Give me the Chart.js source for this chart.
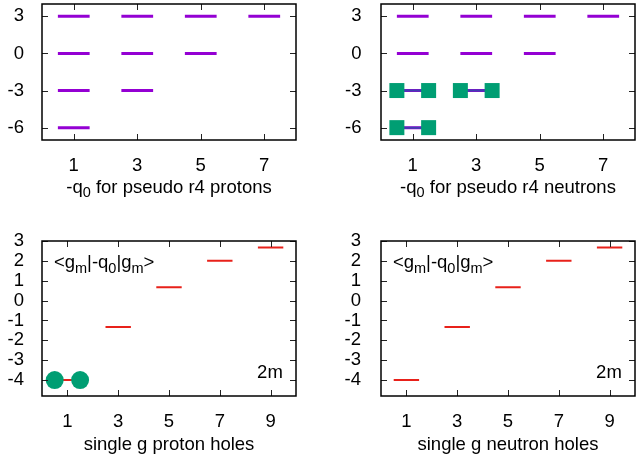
<!DOCTYPE html>
<html>
<head>
<meta charset="utf-8">
<script src="https://cdn.jsdelivr.net/npm/chart.js@4.4.1/dist/chart.umd.min.js"></script>
<style>
  body { margin: 0; background: #fff; }
  #wrap { position: relative; width: 641px; height: 457px; }
  canvas { position: absolute; }
</style>
</head>
<body>
<div id="wrap">
  <canvas id="q-protons" width="320" height="200" style="left:0;top:0"></canvas>
  <canvas id="q-neutrons" width="321" height="200" style="left:320px;top:0"></canvas>
  <canvas id="g-protons" width="320" height="232" style="left:0;top:225px"></canvas>
  <canvas id="g-neutrons" width="321" height="232" style="left:320px;top:225px"></canvas>
</div>
<script>
// top row: -q0 levels for pseudo r4 shell
const topX = [1, 3, 5, 7];
const topYTicks = [3, 0, -3, -6];
const protonLevels = [[3, 0, -3, -6], [3, 0, -3], [3, 0], [3]];
const neutronLevels = [[3, 0, -3, -6], [3, 0, -3], [3, 0], [3]];
const neutronFilled = [[-3, -6], [-3], [], []];

// bottom row: <gm|-q0|gm> for single g holes
const botX = [1, 3, 5, 7, 9];
const botYTicks = [3, 2, 1, 0, -1, -2, -3, -4];
const gmLevels = [-4, -1.333, 0.667, 2, 2.667];
const protonHoleX = [1];
const protonHoleY = [-4];

const PURPLE = "#9400d3";
const BLUE = "#4040b0";
const GREEN = "#009e73";
const RED = "#e8211a";
const FONT = { family: "'Liberation Sans', Arial, sans-serif", size: 18.5 };
const SUB = { family: FONT.family, size: 14.5 };

function segs(xs, levels) {
  const pts = [];
  xs.forEach((x, i) => {
    [].concat(levels[i]).forEach((y) => {
      pts.push({ x: x - 0.5, y: y }, { x: x + 0.5, y: y }, { x: x, y: null });
    });
  });
  return pts;
}

// text with gnuplot-style subscripts: parts = [[text, isSub], ...]
function drawRich(ctx, px, py, parts, align) {
  const font = (f) => f.size + "px " + f.family;
  let w = 0;
  parts.forEach(([t, isSub]) => {
    ctx.font = font(isSub ? SUB : FONT);
    w += ctx.measureText(t).width;
  });
  let x = px;
  if (align === "right") x = px - w;
  if (align === "center") x = px - w / 2;
  ctx.fillStyle = "#000";
  ctx.textAlign = "left";
  ctx.textBaseline = "alphabetic";
  const base = py + 6.5;
  parts.forEach(([t, isSub]) => {
    ctx.font = font(isSub ? SUB : FONT);
    ctx.fillText(t, x, isSub ? base + 4.5 : base);
    x += ctx.measureText(t).width;
  });
}

const framePlugin = {
  id: "frame",
  afterDatasetsDraw(chart, args, opts) {
    const { ctx, chartArea: a } = chart;
    const x = chart.scales.x;
    const y = chart.scales.y;
    ctx.save();
    ctx.strokeStyle = "#222";
    ctx.lineWidth = 1;
    ctx.beginPath();
    x.ticks.forEach((t) => {
      const px = Math.round(x.getPixelForValue(t.value)) + 0.5;
      ctx.moveTo(px, a.bottom);
      ctx.lineTo(px, a.bottom - 6);
      ctx.moveTo(px, a.top);
      ctx.lineTo(px, a.top + 6);
    });
    y.ticks.forEach((t) => {
      const py = Math.round(y.getPixelForValue(t.value)) + 0.5;
      ctx.moveTo(a.left, py);
      ctx.lineTo(a.left + 6, py);
      ctx.moveTo(a.right, py);
      ctx.lineTo(a.right - 6, py);
    });
    ctx.stroke();
    ctx.strokeStyle = "#000";
    ctx.lineWidth = 1.5;
    ctx.strokeRect(a.left, a.top, a.width, a.height);
    (opts.notes || []).forEach((n) => {
      drawRich(ctx, x.getPixelForValue(n.x), y.getPixelForValue(n.y), n.parts, n.align);
    });
    // axis title, drawn here so the subscript matches gnuplot
    drawRich(ctx, (a.left + a.right) / 2, x.bottom - 14, opts.xTitle, "center");
    ctx.restore();
  },
};

function panel(id, cfg) {
  return new Chart(document.getElementById(id), {
    type: "line",
    data: { datasets: cfg.datasets },
    options: {
      responsive: false,
      animation: false,
      layout: { padding: cfg.padding, autoPadding: false },
      elements: { point: { radius: 0 }, line: { tension: 0 } },
      plugins: {
        legend: { display: false },
        tooltip: { enabled: false },
        frame: { notes: cfg.notes || [], xTitle: cfg.xTitle },
      },
      scales: {
        x: {
          type: "linear",
          min: cfg.xMin,
          max: cfg.xMax,
          afterBuildTicks: (s) => {
            s.ticks = cfg.xTicks.map((v) => ({ value: v }));
          },
          afterFit: (s) => {
            s.height = cfg.xHeight;
            s.paddingLeft = 0;
            s.paddingRight = 0;
          },
          grid: { display: false },
          border: { display: false },
          ticks: {
            font: FONT,
            color: "#000",
            padding: cfg.xPad,
            autoSkip: false,
            maxRotation: 0,
            callback: (v) => String(v),
          },
        },
        y: {
          type: "linear",
          min: cfg.yMin,
          max: cfg.yMax,
          afterBuildTicks: (s) => {
            s.ticks = cfg.yTicks.map((v) => ({ value: v }));
          },
          afterFit: (s) => {
            s.width = cfg.yWidth;
            s.paddingTop = 0;
            s.paddingBottom = 0;
          },
          grid: { display: false },
          border: { display: false },
          ticks: {
            font: FONT,
            color: "#000",
            padding: cfg.yPad,
            autoSkip: false,
            callback: (v) => String(v),
          },
        },
      },
    },
    plugins: [framePlugin],
  });
}

const levelLine = (data, color, width) => ({
  data: data,
  borderColor: color,
  borderWidth: width,
  pointRadius: 0,
  spanGaps: false,
});

const gmNote = {
  x: 0.47,
  y: 1.95,
  align: "left",
  parts: [["<g", false], ["m", true], ["|-q", false], ["0", true], ["|g", false], ["m", true], [">", false]],
};
const twoMNote = { x: 9.48, y: -3.55, align: "right", parts: [["2m", false]] };

panel("q-protons", {
  datasets: [levelLine(segs(topX, protonLevels), PURPLE, 3)],
  padding: { left: 0, right: 24, top: 4, bottom: 0 },
  xMin: 0, xMax: 8, xTicks: topX, xHeight: 60, xPad: 7,
  yMin: -7, yMax: 4, yTicks: topYTicks, yWidth: 42, yPad: 10,
  xTitle: [["-q", false], ["0", true], [" for pseudo r4 protons", false]],
});

panel("q-neutrons", {
  datasets: [
    {
      data: segs(topX, neutronFilled),
      borderColor: BLUE,
      borderWidth: 2,
      pointStyle: "rect",
      pointRadius: 10.6,
      pointBackgroundColor: GREEN,
      pointBorderWidth: 0,
      spanGaps: false,
    },
    levelLine(segs(topX, neutronLevels), PURPLE, 3),
  ],
  padding: { left: 0, right: 6, top: 4, bottom: 0 },
  xMin: 0, xMax: 8, xTicks: topX, xHeight: 60, xPad: 7,
  yMin: -7, yMax: 4, yTicks: topYTicks, yWidth: 61, yPad: 11.5,
  xTitle: [["-q", false], ["0", true], [" for pseudo r4 neutrons", false]],
});

panel("g-protons", {
  datasets: [
    {
      data: segs(protonHoleX, protonHoleY),
      borderColor: RED,
      borderWidth: 0,
      pointStyle: "circle",
      pointRadius: 9,
      pointBackgroundColor: GREEN,
      pointBorderWidth: 0,
      showLine: false,
    },
    levelLine(segs(botX, gmLevels), RED, 2),
  ],
  padding: { left: 0, right: 24, top: 16, bottom: 0 },
  xMin: 0, xMax: 10, xTicks: botX, xHeight: 61, xPad: 7,
  yMin: -4.8, yMax: 3, yTicks: botYTicks, yWidth: 42, yPad: 10,
  xTitle: [["single g proton holes", false]],
  notes: [gmNote, twoMNote],
});

panel("g-neutrons", {
  datasets: [levelLine(segs(botX, gmLevels), RED, 2)],
  padding: { left: 0, right: 6, top: 16, bottom: 0 },
  xMin: 0, xMax: 10, xTicks: botX, xHeight: 61, xPad: 7,
  yMin: -4.8, yMax: 3, yTicks: botYTicks, yWidth: 61, yPad: 12,
  xTitle: [["single g neutron holes", false]],
  notes: [gmNote, twoMNote],
});
</script>
</body>
</html>
